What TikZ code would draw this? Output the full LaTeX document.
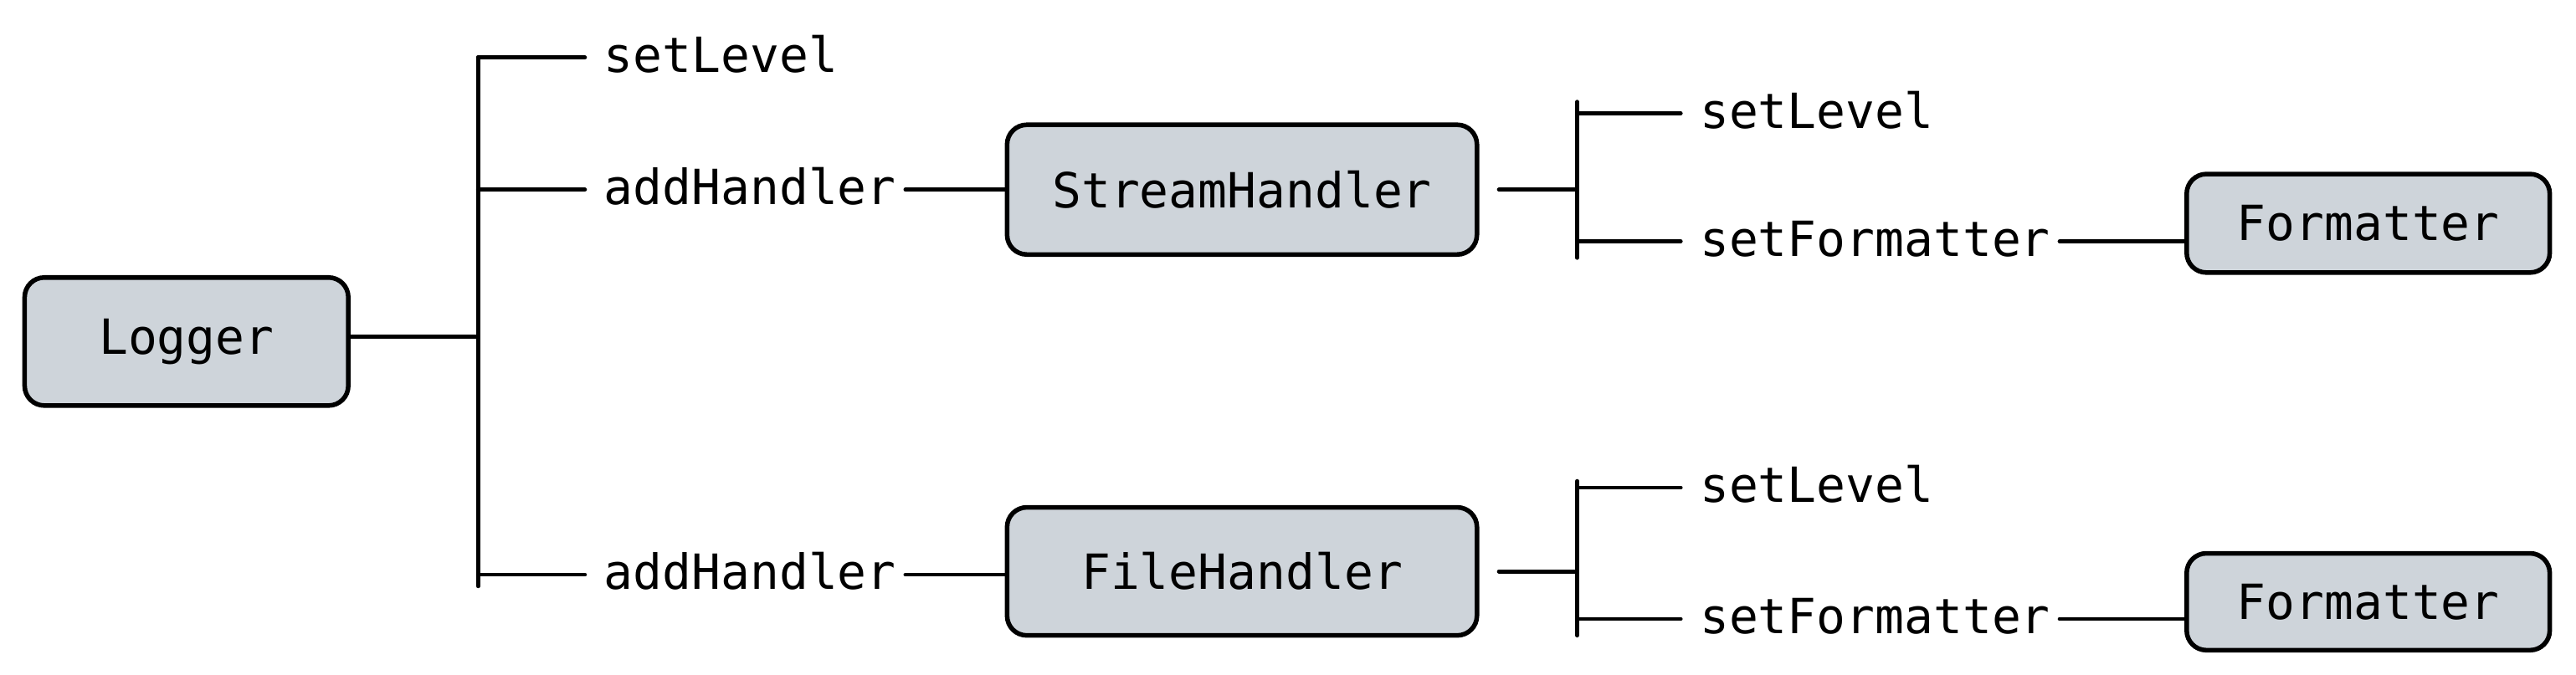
\documentclass[tikz,border=0pt]{standalone}
\usepackage{fontspec}
\usepackage{tikz}
\usetikzlibrary{positioning}
\newfontfamily\codefont{DejaVu Sans Mono}
\definecolor{boxgray}{RGB}{206,212,218}
\tikzset{
    objbox/.style={rectangle, rounded corners=0.12cm, draw=black, line width=0.8pt, fill=boxgray, text centered, font=\codefont\fontsize{8.4pt}{10pt}\selectfont},
    method/.style={anchor=west, inner sep=0.5mm, text height=1.6ex, text depth=0.4ex, font=\codefont\fontsize{8.4pt}{10pt}\selectfont},
    link/.style={line width=0.7pt, line cap=round},
}

\begin{document}
\begin{tikzpicture}
    \useasboundingbox (0,0) rectangle (15.68,-4.106);

    \node [objbox, minimum width=1.97cm, minimum height=0.78cm] (logger) at (1.135,-2.08) {Logger};

    \coordinate (brA1) at (2.91,-0.35);
    \coordinate (brA2) at (2.91,-3.57);
    \node [method] (lvlA) at (3.62,-0.35) {setLevel};
    \node [method] (addA) at (3.62,-1.155) {addHandler};
    \node [method] (addB) at (3.62,-3.50) {addHandler};

    \node [objbox, minimum width=2.86cm, minimum height=0.79cm] (stream) at (7.56,-1.155) {StreamHandler};
    \node [objbox, minimum width=2.86cm, minimum height=0.78cm] (file) at (7.56,-3.48) {FileHandler};

    \coordinate (brB1) at (9.60,-0.62);
    \coordinate (brB2) at (9.60,-1.57);
    \node [method] (lvlB) at (10.29,-0.69) {setLevel};
    \node [method] (fmtB) at (10.29,-1.47) {setFormatter};

    \coordinate (brC1) at (9.60,-2.93);
    \coordinate (brC2) at (9.60,-3.87);
    \node [method] (lvlC) at (10.29,-2.97) {setLevel};
    \node [method] (fmtC) at (10.29,-3.77) {setFormatter};

    \node [objbox, minimum width=2.21cm, minimum height=0.60cm] (fmtrA) at (14.415,-1.36) {Formatter};
    \node [objbox, minimum width=2.21cm, minimum height=0.59cm] (fmtrB) at (14.415,-3.665) {Formatter};

    % brackets
    \draw [link] (brA1) -- (brA2);
    \draw [link] (brB1) -- (brB2);
    \draw [link] (brC1) -- (brC2);

    \draw [link] ([yshift=0.3mm]logger.east) -- ([yshift=0.3mm]logger.east -| brA1);
    \draw [link, shorten >=0.6mm] (lvlA -| brA1) -- (lvlA);
    \draw [link, shorten >=0.6mm] (addA -| brA1) -- (addA);
    \draw [link, shorten >=0.6mm] (addB -| brA1) -- (addB);

    \draw [link] (addA) -- (stream);
    \draw [link] (addB.east) -- (addB.east -| file.west);

    \draw [link, shorten <=1.2mm] (stream.east) -- (stream.east -| brB1);
    \draw [link, shorten >=0.6mm] (lvlB -| brB1) -- (lvlB);
    \draw [link, shorten >=0.6mm] (fmtB -| brB1) -- (fmtB);
    \draw [link] (fmtB.east) -- (fmtB.east -| fmtrA.west);

    \draw [link, shorten <=1.2mm] (file.east) -- (file.east -| brC1);
    \draw [link, shorten >=0.6mm] (lvlC -| brC1) -- (lvlC);
    \draw [link, shorten >=0.6mm] (fmtC -| brC1) -- (fmtC);
    \draw [link] (fmtC.east) -- (fmtC.east -| fmtrB.west);
\end{tikzpicture}
\end{document}
